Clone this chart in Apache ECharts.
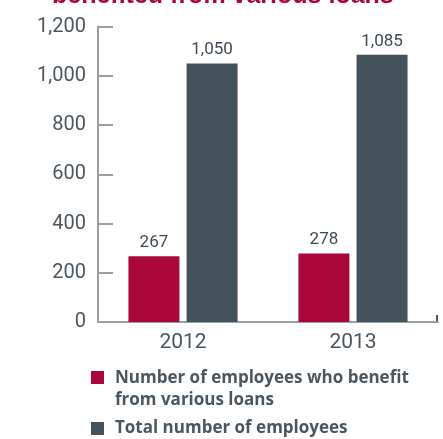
<!DOCTYPE html>
<html>
<head>
<meta charset="utf-8">
<script src="https://cdn.jsdelivr.net/npm/echarts@6/dist/echarts.min.js"></script>
<style>
  html, body { margin: 0; padding: 0; background: #ffffff; }
  #chart { width: 443px; height: 439px; }
</style>
</head>
<body>
<div id="chart"></div>
<script>
// Chart data
const years = ['2012', '2013'];
const loanBeneficiaries = [267, 278];
const totalEmployees = [1050, 1085];
const keyLabels = [
  'Number of employees who benefit\nfrom various loans',
  'Total number of employees'
];
const yTicks = { min: 0, max: 1200, step: 200 };

const RED = '#a9073a';
const SLATE = '#44525c';
const TEXT = '#4a5761';
const AXIS = '#98a0a6';
const FONT = 'Roboto, "Liberation Sans", sans-serif';
const KEY_FONT = 'bold 17px "Open Sans", sans-serif';

const fmt = v => Number(v).toLocaleString('en-US');

const chart = echarts.init(document.getElementById('chart'));

const grid = { left: 98, right: 5, top: 26.5, bottom: 117 };

const barLabel = {
  show: true, position: 'top', distance: 5,
  color: '#3e4b55', fontSize: 17, fontFamily: FONT,
  formatter: p => fmt(p.value)
};

chart.setOption({
  animation: false,
  title: {
    text: 'benefited from various loans',
    left: 52,
    top: -16,
    padding: 0,
    textStyle: { color: RED, fontSize: 25, fontWeight: 'bold' }
  },
  grid: grid,
  xAxis: {
    type: 'category',
    data: years,
    axisLine: { show: true, lineStyle: { color: AXIS, width: 2 } },
    axisTick: { show: false },
    axisLabel: { color: TEXT, fontSize: 21, fontFamily: FONT, margin: 10 }
  },
  yAxis: {
    type: 'value',
    min: yTicks.min,
    max: yTicks.max,
    interval: yTicks.step,
    splitLine: { show: false },
    axisLine: { show: true, lineStyle: { color: AXIS, width: 2 } },
    axisTick: { show: true, inside: true, length: 15, lineStyle: { color: AXIS, width: 2 } },
    axisLabel: {
      color: TEXT, fontSize: 20, fontFamily: FONT, margin: 12,
      padding: [5, 0, 0, 0],
      formatter: v => fmt(v)
    }
  },
  series: [
    { type: 'bar', data: loanBeneficiaries, barWidth: 51, barGap: '14%', itemStyle: { color: RED }, label: barLabel },
    { type: 'bar', data: totalEmployees, barWidth: 51, barGap: '14%', itemStyle: { color: SLATE }, label: barLabel }
  ],
  graphic: [
    // closing tick at the right end of the baseline
    {
      type: 'line',
      shape: { x1: 443 - grid.right - 1, y1: 439 - grid.bottom - 7, x2: 443 - grid.right - 1, y2: 439 - grid.bottom },
      style: { stroke: TEXT, lineWidth: 2 }
    },
    // key
    { type: 'rect', left: 91, top: 371, shape: { width: 13, height: 13 }, style: { fill: RED } },
    {
      type: 'text', left: 115, top: 367,
      style: { text: keyLabels[0], fill: TEXT, font: KEY_FONT, lineHeight: 22 }
    },
    { type: 'rect', left: 91, top: 422, shape: { width: 13, height: 13 }, style: { fill: SLATE } },
    {
      type: 'text', left: 115, top: 417,
      style: { text: keyLabels[1], fill: TEXT, font: KEY_FONT, lineHeight: 22 }
    }
  ]
});
</script>
</body>
</html>
